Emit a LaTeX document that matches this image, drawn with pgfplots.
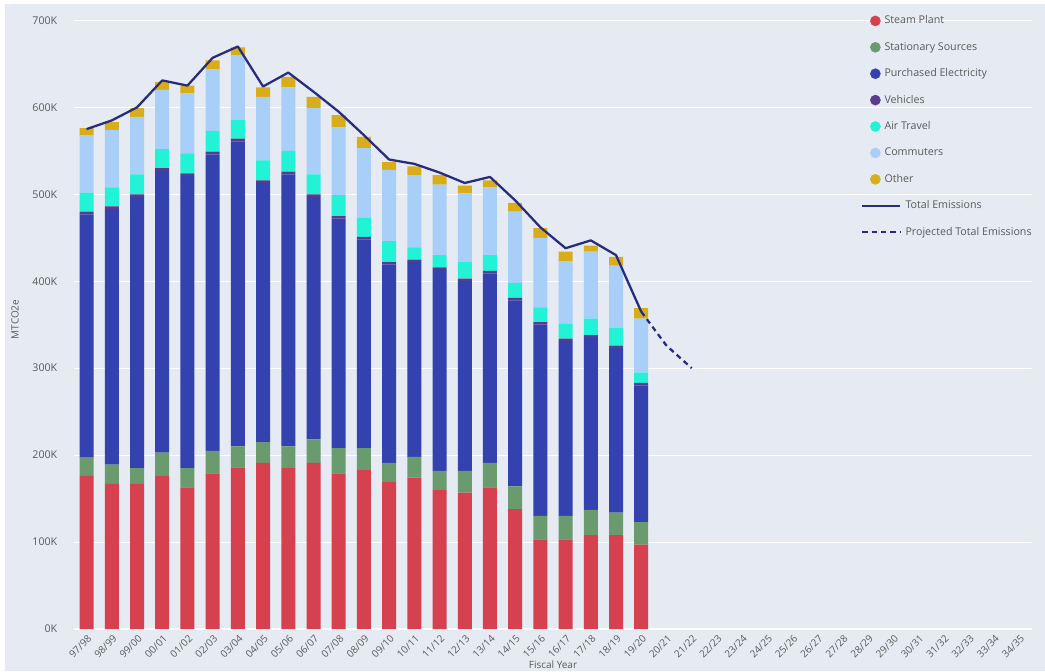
\documentclass[border=0pt]{standalone}
\usepackage{fontspec}
\setmainfont{Open Sans}
\usepackage{pgfplots}
\usepackage{pgfplotstable}
\pgfplotsset{compat=1.18}
\definecolor{bgc}{HTML}{E5EAF3}
\definecolor{cSteam}{HTML}{D5414E}
\definecolor{cStat}{HTML}{6A9B6F}
\definecolor{cElec}{HTML}{3342AE}
\definecolor{cVeh}{HTML}{5B3B8C}
\definecolor{cAir}{HTML}{22F2D6}
\definecolor{cComm}{HTML}{A8CFF7}
\definecolor{cOther}{HTML}{D9AD1A}
\definecolor{cTot}{HTML}{282C7E}
\definecolor{txt}{HTML}{5A5A5A}

\pgfplotstableread{
x steam stat elec veh air comm other
0 176 21 280 3 22 66 8
1 167 22 294 3 22 66 9
2 167 18 312 3 23 66 10
3 176 27 324 3 22 68 9
4 163 22 336 3 23 69 9
5 179 26 341 3 24 71 10
6 186 24 351 3 22 74 9
7 191 24 298 3 23 73 11
8 185 25 313 3 24 73 12
9 191 27 279 3 23 76 13
10 179 29 264 3 24 78 14
11 183 25 240 3 22 80 13
12 169 22 228 3 24 82 9
13 174 24 224 3 14 83 10
14 160 22 231 3 14 81 11
15 157 25 218 3 19 79 9
16 163 28 218 3 18 78 8
17 138 26 214 3 17 82 10
18 103 27 220 3 17 80 11
19 103 27 201 3 17 72 11
20 108 29 198 3 19 77 7
21 108 26 189 3 20 72 10
22 97 26 157 3 12 62 12
}\bars

\pgfplotstableread{
x total
0 575
1 585
2 600
3 631
4 625
5 657
6 670
7 624
8 640
9 618
10 595
11 568
12 540
13 535
14 525
15 513
16 520
17 493
18 462
19 438
20 447
21 430
22 365
}\tot

\pgfplotstableread{
x proj
22 365
23 326
24 300
}\proj

\pgfplotsset{
  geom/.style={
    at={(55.5pt,31.5pt)}, anchor=south west,
    scale only axis, width=718.5pt, height=464.25pt,
    xmin=-0.5, xmax=37.5, ymin=0, ymax=712,
  },
  circ/.style={legend image code/.code={\fill[#1] (9.75pt,0) circle (3.75pt);}},
}

\begin{document}
\begin{tikzpicture}
\useasboundingbox (0,0) rectangle (783.75pt,503.25pt);
\fill[white] (0,0) rectangle (783.75pt,503.25pt);
\fill[bgc] (3.75pt,0) rectangle (783.75pt,500.25pt);
\begin{axis}[geom,
  ybar stacked, bar width=10.5pt,
  axis line style={draw=none}, tick style={draw=none},
  ymajorgrids, grid style={white, line width=0.8pt},
  ytick={0,100,200,300,400,500,600,700},
  yticklabels={0K,100K,200K,300K,400K,500K,600K,700K},
  yticklabel style={font=\fontsize{8}{9.6}\selectfont, text=txt, anchor=east, xshift=-9pt},
  xtick={0,...,37},
  xticklabels={97/98,98/99,99/00,00/01,01/02,02/03,03/04,04/05,05/06,06/07,07/08,08/09,09/10,10/11,11/12,12/13,13/14,14/15,15/16,16/17,17/18,18/19,19/20,20/21,21/22,22/23,23/24,24/25,25/26,26/27,27/28,28/29,29/30,30/31,31/32,32/33,33/34,34/35},
  xticklabel style={font=\fontsize{7.5}{9}\selectfont, text=txt, rotate=45, anchor=north east, inner sep=1pt, yshift=-2pt, xshift=-1.5pt},
  xlabel={Fiscal Year}, ylabel={MTCO2e},
  xlabel style={font=\fontsize{7.5}{9}\selectfont, text=txt, at={(axis description cs:0.5,0)}, anchor=center, yshift=-27pt},
  ylabel style={font=\fontsize{7.5}{9}\selectfont, text=txt, at={(axis description cs:-0.0616,0.5)}, anchor=center},
]
\addplot[fill=cSteam, draw=none] table[x=x, y=steam] {\bars};
\addplot[fill=cStat, draw=none] table[x=x, y=stat] {\bars};
\addplot[fill=cElec, draw=none] table[x=x, y=elec] {\bars};
\addplot[fill=cVeh, draw=none] table[x=x, y=veh] {\bars};
\addplot[fill=cAir, draw=none] table[x=x, y=air] {\bars};
\addplot[fill=cComm, draw=none] table[x=x, y=comm] {\bars};
\addplot[fill=cOther, draw=none] table[x=x, y=other] {\bars};
\end{axis}
\begin{axis}[geom, hide axis,
  legend cell align=left,
  legend style={at={(0.8173,1.0084)}, anchor=north west, draw=none, fill=none,
    font=\fontsize{8}{9.6}\selectfont, text=txt, row sep=0pt,
    nodes={inner sep=0pt, inner xsep=3pt, minimum height=19.8pt}},
]
\addlegendimage{circ=cSteam}\addlegendentry{\hspace{-15.75pt}Steam Plant}
\addlegendimage{circ=cStat}\addlegendentry{\hspace{-15.75pt}Stationary Sources}
\addlegendimage{circ=cElec}\addlegendentry{\hspace{-15.75pt}Purchased Electricity}
\addlegendimage{circ=cVeh}\addlegendentry{\hspace{-15.75pt}Vehicles}
\addlegendimage{circ=cAir}\addlegendentry{\hspace{-15.75pt}Air Travel}
\addlegendimage{circ=cComm}\addlegendentry{\hspace{-15.75pt}Commuters}
\addlegendimage{circ=cOther}\addlegendentry{\hspace{-15.75pt}Other}
\addplot[cTot, line width=1.7pt, line join=round, mark=none,
  legend image code/.code={\draw[cTot, line width=1.7pt] (0,0) -- (28.5pt,0);}]
  table[x=x, y=total] {\tot};
\addlegendentry{Total Emissions}
\addplot[cTot, line width=1.7pt, dash pattern=on 4pt off 3pt, mark=none,
  legend image code/.code={\draw[cTot, line width=1.7pt, dash pattern=on 4pt off 3pt] (0,0) -- (28.5pt,0);}]
  table[x=x, y=proj] {\proj};
\addlegendentry{Projected Total Emissions}
\end{axis}
\end{tikzpicture}
\end{document}
